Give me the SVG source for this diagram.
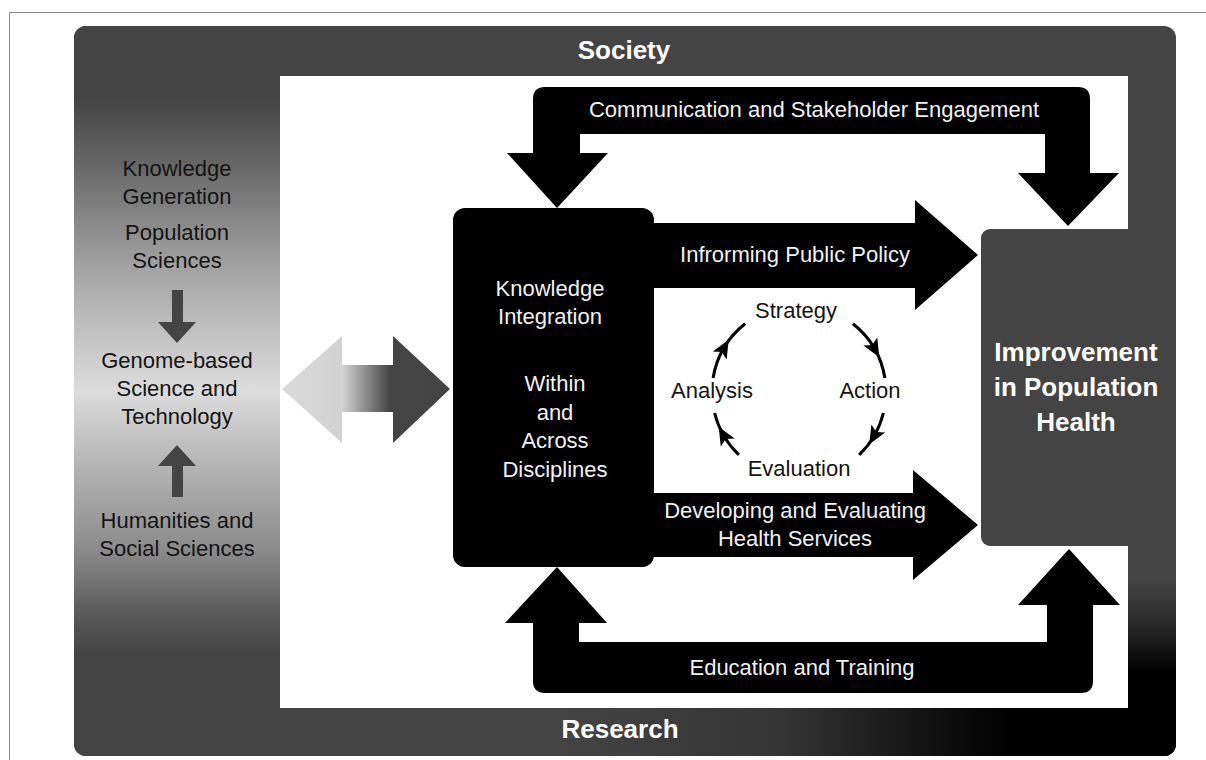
<svg xmlns="http://www.w3.org/2000/svg" width="1206" height="760" viewBox="0 0 1206 760">
  <defs>
    <style>
      .lbl { font-family: "Liberation Sans", Arial, sans-serif; font-size: 22px; text-anchor: middle; }
      .dark { fill: #141414; }
      .light { fill: #f2f2f2; }
      .title { font-family: "Liberation Sans", Arial, sans-serif; font-size: 26px; font-weight: bold; text-anchor: middle; fill: #ffffff; }
      .band { fill: #000000; }
      .cyc { fill: none; stroke: #000000; stroke-width: 3; }
    </style>
    <clipPath id="frameClip">
      <rect x="74" y="26" width="1102" height="730" rx="12" ry="12"/>
    </clipPath>
    <linearGradient id="leftGrad" gradientUnits="userSpaceOnUse" x1="0" y1="26" x2="0" y2="756">
      <stop offset="0" stop-color="#444444"/>
      <stop offset="0.10" stop-color="#444444"/>
      <stop offset="0.19" stop-color="#676767"/>
      <stop offset="0.31" stop-color="#9a9a9a"/>
      <stop offset="0.38" stop-color="#b4b4b4"/>
      <stop offset="0.50" stop-color="#dcdcdc"/>
      <stop offset="0.58" stop-color="#bdbdbd"/>
      <stop offset="0.72" stop-color="#8a8a8a"/>
      <stop offset="0.80" stop-color="#5c5c5c"/>
      <stop offset="0.86" stop-color="#444444"/>
      <stop offset="1" stop-color="#444444"/>
    </linearGradient>
    <linearGradient id="bottomGrad" gradientUnits="userSpaceOnUse" x1="560" y1="0" x2="1010" y2="0">
      <stop offset="0" stop-color="#444444"/>
      <stop offset="0.5" stop-color="#343434"/>
      <stop offset="0.78" stop-color="#161616"/>
      <stop offset="1" stop-color="#000000"/>
    </linearGradient>
    <linearGradient id="rightGrad" gradientUnits="userSpaceOnUse" x1="0" y1="580" x2="0" y2="672">
      <stop offset="0" stop-color="#444444"/>
      <stop offset="0.5" stop-color="#282828"/>
      <stop offset="1" stop-color="#000000"/>
    </linearGradient>
    <linearGradient id="linkGrad" gradientUnits="userSpaceOnUse" x1="282" y1="0" x2="450" y2="0">
      <stop offset="0" stop-color="#dadada"/>
      <stop offset="0.36" stop-color="#d2d2d2"/>
      <stop offset="0.64" stop-color="#454545"/>
      <stop offset="1" stop-color="#444444"/>
    </linearGradient>
    <polygon id="tip" points="10,0 -8,-8 -4,0 -8,8"/>
  </defs>

  <rect width="1206" height="760" fill="#ffffff"/>
  <!-- thin page rule -->
  <path d="M9.5 760 V12.5 H1206" fill="none" stroke="#8a8a8a" stroke-width="1"/>

  <!-- outer frame: Society / Research ring -->
  <g id="frame">
    <g clip-path="url(#frameClip)">
      <rect x="74" y="26" width="1102" height="730" fill="#444444"/>
      <rect x="74" y="26" width="206" height="730" fill="url(#leftGrad)"/>
      <rect x="280" y="708" width="896" height="48" fill="url(#bottomGrad)"/>
      <rect x="1128" y="560" width="48" height="196" fill="url(#rightGrad)"/>
    </g>
    <rect x="280" y="76" width="848" height="632" fill="#ffffff"/>
    <text class="title" x="624" y="59">Society</text>
    <text class="title" x="620" y="738">Research</text>
  </g>

  <!-- knowledge generation column -->
  <g id="knowledge-generation">
    <text class="lbl dark" x="177" y="176">Knowledge</text>
    <text class="lbl dark" x="177" y="204">Generation</text>
    <text class="lbl dark" x="177" y="240">Population</text>
    <text class="lbl dark" x="177" y="268">Sciences</text>
    <text class="lbl dark" x="177" y="368">Genome-based</text>
    <text class="lbl dark" x="177" y="396">Science and</text>
    <text class="lbl dark" x="177" y="424">Technology</text>
    <text class="lbl dark" x="177" y="528">Humanities and</text>
    <text class="lbl dark" x="177" y="556">Social Sciences</text>
  </g>

  <!-- knowledge integration box -->
  <g id="knowledge-integration">
    <rect x="453" y="208" width="201" height="359" rx="12" ry="12" fill="#000000"/>
    <text class="lbl light" x="550" y="296">Knowledge</text>
    <text class="lbl light" x="550" y="324">Integration</text>
    <text class="lbl light" x="555" y="391">Within</text>
    <text class="lbl light" x="555" y="420">and</text>
    <text class="lbl light" x="555" y="448">Across</text>
    <text class="lbl light" x="555" y="477">Disciplines</text>
  </g>

  <!-- outcome box -->
  <g id="population-health">
    <rect x="981" y="229" width="160" height="317" rx="9" ry="9" fill="#444444"/>
    <text class="title" x="1076" y="361">Improvement</text>
    <text class="title" x="1076" y="396">in Population</text>
    <text class="title" x="1076" y="431">Health</text>
  </g>

  <!-- strategy cycle -->
  <g id="cycle">
    <text class="lbl dark" x="796" y="318">Strategy</text>
    <text class="lbl dark" x="870" y="398">Action</text>
    <text class="lbl dark" x="799" y="476">Evaluation</text>
    <text class="lbl dark" x="712" y="398">Analysis</text>
    <path class="cyc" d="M852.9 323.7 A87 87 0 0 1 884.9 378.1"/>
    <path class="cyc" d="M883.4 413 A87 87 0 0 1 859.1 454.9"/>
    <path class="cyc" d="M738.9 454.9 A87 87 0 0 1 714.6 413"/>
    <path class="cyc" d="M713.1 378.1 A87 87 0 0 1 745.1 323.7"/>
    <use href="#tip" transform="translate(874.3 348.5) rotate(60)"/>
    <use href="#tip" transform="translate(874.3 435.5) rotate(120)"/>
    <use href="#tip" transform="translate(723.7 435.5) rotate(240)"/>
    <use href="#tip" transform="translate(723.7 348.5) rotate(300)"/>
  </g>

  <!-- connectors -->
  <g id="connectors">
    <!-- generation <-> integration -->
    <path d="M282 389 L342 336 L342 365 L393 365 L393 336 L450 389 L393 443 L393 412 L342 412 L342 443 Z" fill="url(#linkGrad)"/>
    <!-- column arrows -->
    <path d="M172 290 H183 V322 H196 L177 343 L158 322 H172 Z" fill="#444444"/>
    <path d="M177 445 L196 466 H183 V497 H172 V466 H158 Z" fill="#444444"/>

    <!-- communication and stakeholder engagement -->
    <path class="band" d="M533 153 V99 Q533 87 545 87 H1078 Q1090 87 1090 99 V173 H1119 L1068 226 L1018 173 H1045 V134 H580 V153 H608 L557 208 L507 153 Z"/>
    <text class="lbl light" x="814" y="117">Communication and Stakeholder Engagement</text>

    <!-- informing public policy -->
    <path class="band" d="M640 223 H915 V200 L978 255 L915 310 V288 H640 Z"/>
    <text class="lbl light" x="795" y="262">Infrorming Public Policy</text>

    <!-- developing and evaluating health services -->
    <path class="band" d="M640 493 H913 V470 L978 525 L913 580 V557 H640 Z"/>
    <text class="lbl light" x="795" y="518">Developing and Evaluating</text>
    <text class="lbl light" x="795" y="546">Health Services</text>

    <!-- education and training -->
    <path class="band" d="M557 567 L607 623 H579 V642 H1047 V605 H1018 L1069 549 L1120 605 H1093 V681 Q1093 693 1081 693 H545 Q533 693 533 681 V623 H505 Z"/>
    <text class="lbl light" x="802" y="675">Education and Training</text>
  </g>
</svg>
